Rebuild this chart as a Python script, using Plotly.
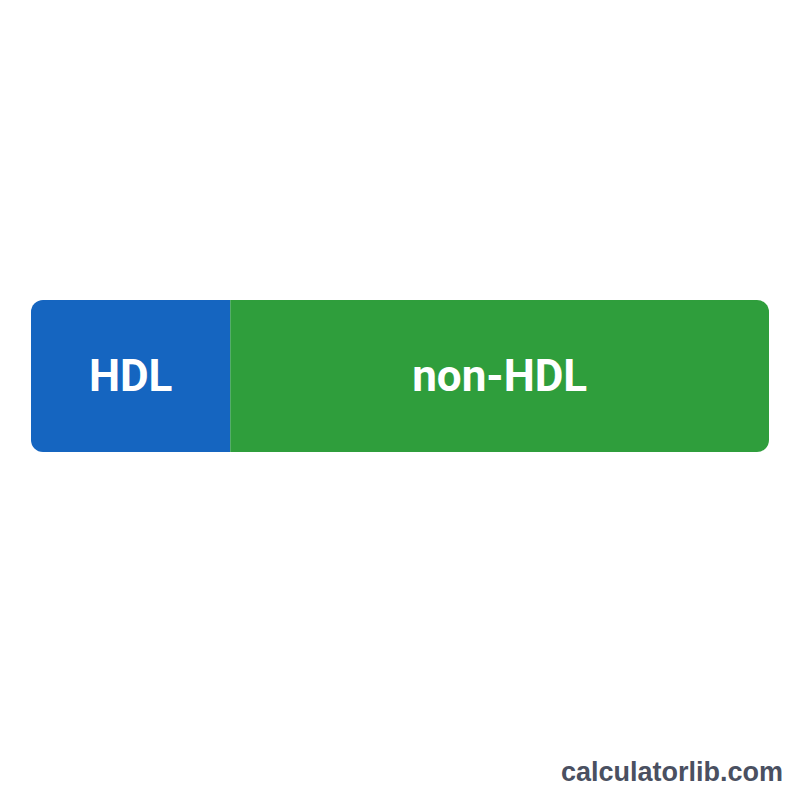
import plotly.graph_objects as go

categories = ["HDL", "non-HDL"]
values = [27, 73]
colors = ["#1565C0", "#2F9E3C"]

fig = go.Figure()
# HDL stacked to the negative side, non-HDL to the positive side: only outer ends rounded
fig.add_trace(go.Bar(
    y=[0], x=[-values[0]], orientation="h",
    marker=dict(color=colors[0], line=dict(width=0)),
    text=[categories[0]], textposition="inside", insidetextanchor="middle",
    textfont=dict(family="Roboto", size=44, color="white", weight="bold"),
    width=1, showlegend=False, hoverinfo="skip",
))
fig.add_trace(go.Bar(
    y=[0], x=[values[1]], orientation="h",
    marker=dict(color=colors[1], line=dict(width=0)),
    text=[categories[1]], textposition="inside", insidetextanchor="middle",
    textfont=dict(family="Roboto", size=44, color="white", weight="bold"),
    width=1, showlegend=False, hoverinfo="skip",
))
fig.update_layout(
    width=800, height=800,
    margin=dict(l=23, r=39, t=0, b=0),
    paper_bgcolor="white", plot_bgcolor="white",
    barmode="relative", barcornerradius=12,
    xaxis=dict(range=[-values[0], values[1]], visible=False, fixedrange=True),
    yaxis=dict(range=[-0.5, 0.5], domain=[1 - 444 / 800, 1 - 292 / 800], visible=False),
    annotations=[dict(
        text="calculatorlib.com", xref="paper", yref="paper", x=1, y=0,
        xanchor="right", yanchor="middle", xshift=16, yshift=36, showarrow=False,
        font=dict(family="Liberation Sans", size=27, color="#4A5061", weight="bold"),
    )],
)
fig.write_html("out.html")
